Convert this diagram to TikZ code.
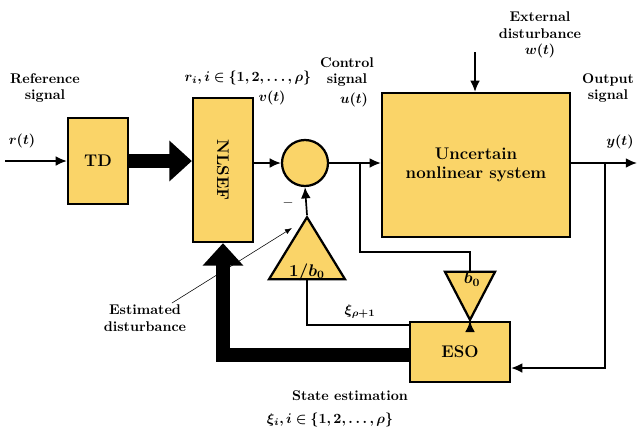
\documentclass[tikz,border=0pt]{standalone}
\usepackage{amsmath}
\usepackage{bm}
\usepackage{tikz}
\usetikzlibrary{arrows.meta, positioning, shapes.geometric}
\definecolor{blockfill}{RGB}{250,212,104}
\begin{document}
\begin{tikzpicture}[x=0.025cm, y=-0.025cm,
            block/.style={draw, line width=1.6pt, fill=blockfill, font=\large\bfseries},
            tri/.style={draw, line width=1.6pt, fill=blockfill, isosceles triangle, inner sep=0pt},
            sig/.style={-{Latex[length=8pt,width=7pt]}, line width=1.2pt},
            fat/.style={-{Triangle[length=16pt,width=28pt]}, line width=10pt},
            lab/.style={font=\bfseries, align=center, inner sep=1pt}
        ]
        \useasboundingbox (0,0) rectangle (640,435);

        % Blocks
        \node[block, minimum width=1.5cm, minimum height=2.15cm] (TD) at (98,161) {TD};
        \node[block, minimum width=1.5cm, minimum height=3.6cm] (NL) at (223,170) {\rotatebox{-90}{NLSEF}};
        \node[draw, circle, line width=1.6pt, fill=blockfill, minimum size=1.15cm] (S) at (305,163) {};
        \node[block, minimum width=4.7cm, minimum height=3.6cm, align=center] (P) at (476,165) {Uncertain\\nonlinear system};
        \node[tri, shape border rotate=90, isosceles triangle apex angle=63, minimum width=1.9cm] (T1) at (307,258) {};
        \node[font=\large\bfseries] at (307,272) {$\bm{1/b_0}$};
        \node[tri, shape border rotate=-90, isosceles triangle apex angle=55, minimum width=1.25cm] (T2) at (470,287) {};
        \node[font=\large\bfseries] at (472,279) {$\bm{b_0}$};
        \node[block, minimum width=2.5cm, minimum height=1.5cm] (ESO) at (460,352) {ESO};

        \coordinate (in) at (5,161);
        \coordinate (w) at (475,52);
        \coordinate (out) at (637,163);
        \coordinate (br) at (360,163);
        \coordinate (yb) at (605,163);

        % Connectors
        \draw[sig] (in) -- (TD);
        \draw[fat] (TD.east) -- (NL.west |- TD.east);
        \draw[sig] (NL.east |- S) -- (S);
        \draw[sig] (S) -- (P.west |- S);
        \draw[sig] (w) -- (P.north -| w);
        \draw[sig] (P.east |- out) -- (out);
        \draw[sig] (yb) |- (ESO.east |- 0,368);
        \draw[line width=1.2pt] (br) |- (470,252) -- (T2.north);
        \draw[sig] (T2.south) -- (T2.south |- ESO.north);
        \draw[sig] (T1.north) -- (S.south);
        \draw[line width=1.2pt] (ESO.west |- 0,325) -| (T1.south);
        \draw[fat] (ESO.west |- 0,355) -| (NL.south);
        \draw[-{Latex[length=5pt]}, thin] (172,303) -- (292,228);

        % Labels
        \node[lab] at (45,88) {Reference\\signal};
        \node[lab] at (22,141) {$\bm{r(t)}$};
        \node[lab] at (248,78) {$\bm{r_i, i\in\{1,2,\ldots,\rho\}}$};
        \node[lab] at (272,98) {$\bm{v(t)}$};
        \node[lab] at (347,72) {Control\\signal};
        \node[lab] at (354,100) {$\bm{u(t)}$};
        \node[lab] at (288,203) {$-$};
        \node[lab] at (540,35) {External\\disturbance\\$\bm{w(t)}$};
        \node[lab] at (608,88) {Output\\signal};
        \node[lab] at (620,142) {$\bm{y(t)}$};
        \node[lab] at (145,318) {Estimated\\disturbance};
        \node[lab] at (360,312) {$\bm{\xi_{\rho+1}}$};
        \node[lab] at (350,396) {State estimation};
        \node[lab] at (330,420) {$\bm{\xi_i, i\in\{1,2,\ldots,\rho\}}$};
    \end{tikzpicture}
\end{document}
